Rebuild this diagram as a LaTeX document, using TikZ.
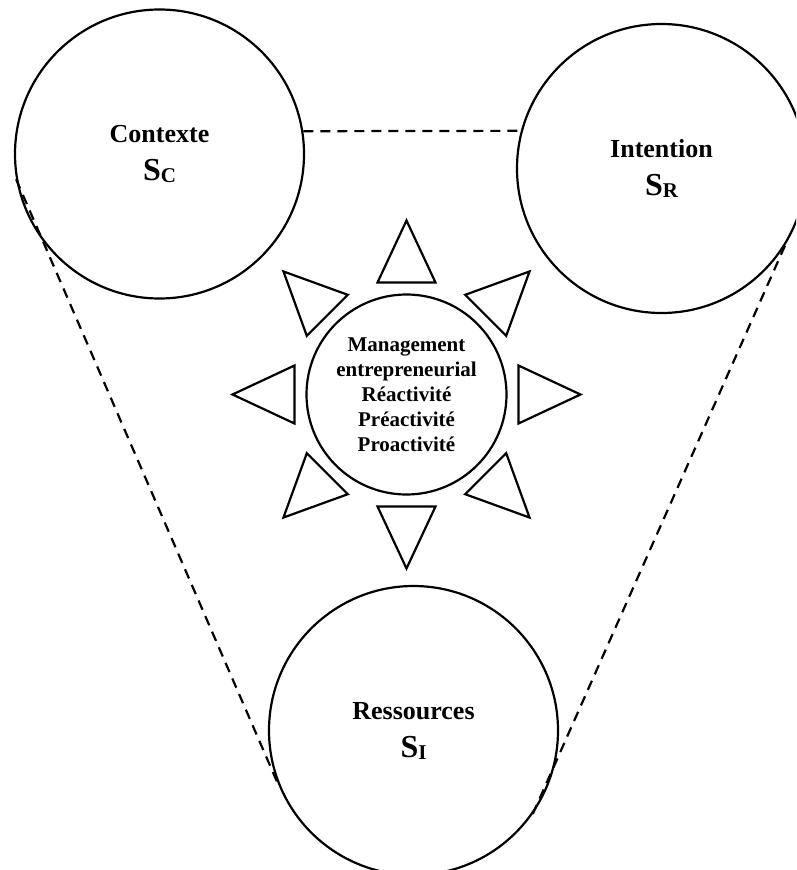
\documentclass[tikz,border=0pt]{standalone}
\usepackage{fontspec}
\setmainfont{Liberation Serif}
\usepackage{tikz}
\usetikzlibrary{calc}
\tikzset{
	bignode/.style={circle, draw=black, line width=2.2pt, minimum size=289pt, inner sep=0pt, align=center, font=\fontsize{26}{38}\selectfont\bfseries},
	corenode/.style={circle, draw=black, line width=2.2pt, minimum size=200pt, inner sep=0pt, align=center, font=\fontsize{21}{25}\selectfont\bfseries},
	raytri/.style={draw=black, line width=2.2pt, line join=miter},
	mydashed/.style = {dash pattern=on 10pt off 7pt, line width=2.2pt}
}
\newcommand{\sysS}[1]{{\fontsize{32}{38}\selectfont S\raisebox{-2pt}{\fontsize{21}{21}\selectfont #1}}}

\begin{document}
\begin{tikzpicture}[x=1pt, y=1pt]
	\useasboundingbox (0,0) rectangle (796,-870);
	\clip (0,0) rectangle (796,-870);
	
	\node[bignode] at (159.5,-154) (ctx)   {Contexte\\\sysS{C}};
	\node[bignode] at (661.5,-168.5) (int) {Intention\\\sysS{R}};
	\node[bignode] at (413.5,-730.5) (res) {Ressources\\\sysS{I}};
	\node[corenode] at (406.5,-394.5) (core) {Management\\entrepreneurial\\Réactivité\\Préactivité\\Proactivité};
	
	\draw[mydashed] (ctx.9) -- (int.165);
	\draw[mydashed] (ctx.190) -- (res.203);
	\draw[mydashed] (int.328) -- (res.325);
	
	% rays round the core
	\foreach \a in {0,45,...,315}
		\draw[raytri] ($(core)+(\a:174)$) -- ($(core)+(\a:112)+(\a+90:29)$) -- ($(core)+(\a:112)+(\a-90:29)$) -- cycle;
\end{tikzpicture}
\end{document}
